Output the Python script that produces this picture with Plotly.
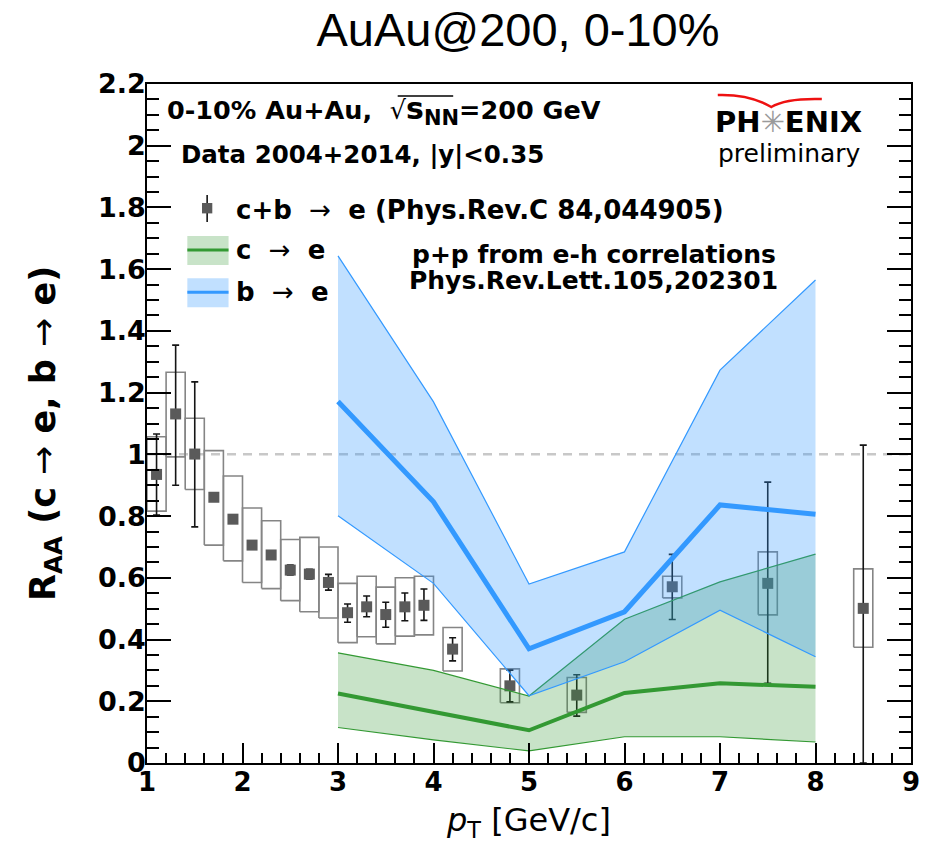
import plotly.graph_objects as go

# ---------------- data ----------------
pt = [1.1, 1.3, 1.5, 1.7, 1.9, 2.1, 2.3, 2.5, 2.7, 2.9, 3.1, 3.3, 3.5, 3.7, 3.9,
      4.2, 4.8, 5.5, 6.5, 7.5, 8.5]
raa = [0.935, 1.131, 1.001, 0.861, 0.790, 0.706, 0.674, 0.625, 0.612, 0.585, 0.487,
       0.506, 0.481, 0.506, 0.511, 0.369, 0.250, 0.220, 0.571, 0.582, 0.501]
stat_up = [0.131, 0.223, 0.234, 0.010, 0.010, 0.010, 0.012, 0.016, 0.016, 0.026, 0.028,
           0.035, 0.040, 0.045, 0.053, 0.037, 0.051, 0.066, 0.105, 0.328, 0.529]
stat_dn = [0.132, 0.231, 0.236, 0.010, 0.010, 0.010, 0.012, 0.016, 0.016, 0.025, 0.031,
           0.032, 0.041, 0.045, 0.049, 0.038, 0.052, 0.068, 0.106, 0.324, 0.501]
sys_hi = [1.057, 1.266, 1.117, 1.012, 0.930, 0.826, 0.785, 0.724, 0.731, 0.700, 0.582,
          0.605, 0.570, 0.600, 0.605, 0.439, 0.305, 0.277, 0.605, 0.684, 0.629]
sys_lo = [0.816, 0.992, 0.886, 0.706, 0.655, 0.585, 0.565, 0.526, 0.490, 0.470, 0.390,
          0.409, 0.386, 0.411, 0.415, 0.298, 0.195, 0.164, 0.535, 0.480, 0.375]
sys_halfwidth = 0.1

band_pt = [3, 4, 5, 6, 7, 8]
c_mid = [0.225, 0.166, 0.106, 0.227, 0.258, 0.247]
c_hi = [0.357, 0.300, 0.217, 0.466, 0.587, 0.677]
c_lo = [0.115, 0.075, 0.039, 0.085, 0.085, 0.068]
b_mid = [1.171, 0.846, 0.370, 0.490, 0.836, 0.806]
b_hi = [1.643, 1.170, 0.580, 0.684, 1.273, 1.565]
b_lo = [0.801, 0.582, 0.218, 0.328, 0.495, 0.344]

x_tickvals = [1, 2, 3, 4, 5, 6, 7, 8, 9]
x_ticktext = ["1", "2", "3", "4", "5", "6", "7", "8", "9"]
y_tickvals = [0, 0.2, 0.4, 0.6, 0.8, 1.0, 1.2, 1.4, 1.6, 1.8, 2.0, 2.2]
y_ticktext = ["0", "0.2", "0.4", "0.6", "0.8", "1", "1.2", "1.4", "1.6", "1.8", "2", "2.2"]

# ---------------- styles ----------------
BLUE = "#3399FF"
BLUE_FILL = "rgba(51,153,255,0.30)"
GREEN = "#339933"
GREEN_FILL = "rgba(51,153,51,0.27)"
MARK = "#5A5A5A"
BOXC = "#858585"
FONT = "DejaVu Sans"

W, H = 932, 842
L, R, T, B = 147, 918, 84, 763


def PX(x):
    return (x - L) / (R - L)


def PY(y):
    return (B - y) / (B - T)


fig = go.Figure()

# systematic boxes
bx, by = [], []
for x, lo, hi in zip(pt, sys_lo, sys_hi):
    bx += [x - sys_halfwidth, x + sys_halfwidth, x + sys_halfwidth, x - sys_halfwidth, x - sys_halfwidth, None]
    by += [lo, lo, hi, hi, lo, None]
fig.add_trace(go.Scatter(x=bx, y=by, mode="lines", line=dict(color=BOXC, width=1.6),
                         hoverinfo="skip", showlegend=False))

# data points
fig.add_trace(go.Scatter(
    x=pt, y=raa, mode="markers",
    marker=dict(symbol="square", size=11, color=MARK),
    error_y=dict(type="data", array=stat_up, arrayminus=stat_dn, color="#151515",
                 thickness=1.6, width=3.5),
    showlegend=False))

# c -> e band
fig.add_trace(go.Scatter(x=band_pt, y=c_lo, mode="lines", line=dict(color=GREEN, width=1.2),
                         showlegend=False))
fig.add_trace(go.Scatter(x=band_pt, y=c_hi, mode="lines", line=dict(color=GREEN, width=1.2),
                         fill="tonexty", fillcolor=GREEN_FILL, showlegend=False))
fig.add_trace(go.Scatter(x=band_pt, y=c_mid, mode="lines", line=dict(color=GREEN, width=4),
                         showlegend=False))
# b -> e band
fig.add_trace(go.Scatter(x=band_pt, y=b_lo, mode="lines", line=dict(color=BLUE, width=1.2),
                         showlegend=False))
fig.add_trace(go.Scatter(x=band_pt, y=b_hi, mode="lines", line=dict(color=BLUE, width=1.2),
                         fill="tonexty", fillcolor=BLUE_FILL, showlegend=False))
fig.add_trace(go.Scatter(x=band_pt, y=b_mid, mode="lines", line=dict(color=BLUE, width=5),
                         showlegend=False))

shapes = []
# dashed unity line
shapes.append(dict(type="line", xref="x", yref="y", x0=1, x1=9, y0=1, y1=1,
                   line=dict(color="#C8C8C8", width=2.5, dash="9px,7px"), layer="below"))


# legend keys (paper coords)
def rect(x0, y0, x1, y1, **kw):
    d = dict(type="rect", xref="paper", yref="paper", x0=PX(x0), x1=PX(x1), y0=PY(y1), y1=PY(y0))
    d.update(kw)
    return d


def seg(x0, y0, x1, y1, color, width):
    return dict(type="line", xref="paper", yref="paper", x0=PX(x0), x1=PX(x1), y0=PY(y0), y1=PY(y1),
                line=dict(color=color, width=width))


shapes.append(seg(207.7, 195, 207.7, 222, "#151515", 1.6))
shapes.append(rect(202.5, 203, 212.9, 213.4, fillcolor=MARK, line=dict(width=0)))
shapes.append(rect(187.7, 236, 229.3, 265, fillcolor=GREEN_FILL, line=dict(width=0)))
shapes.append(seg(187.7, 250, 229.3, 250, GREEN, 3))
shapes.append(rect(187.7, 278.3, 229.3, 307.3, fillcolor=BLUE_FILL, line=dict(width=0)))
shapes.append(seg(187.7, 292.3, 229.3, 292.3, BLUE, 3))

# sqrt overline
shapes.append(seg(400, 96, 456, 96, "black", 1.5))

# PHENIX swoosh
pts = [(723, 95), (755, 94), (777, 107), (792, 98), (828, 99)]
p = [(PX(a), PY(b)) for a, b in pts]
path = "M %f,%f Q %f,%f %f,%f Q %f,%f %f,%f" % (p[0][0], p[0][1], p[1][0], p[1][1], p[2][0], p[2][1],
                                                  p[3][0], p[3][1], p[4][0], p[4][1])
shapes.append(dict(type="path", xref="paper", yref="paper", path=path,
                   line=dict(color="#EE1111", width=2.5)))

ann = []


def txt(text, x, y, size, xanchor="left", family=FONT, color="black", angle=0):
    ann.append(dict(text=text, xref="paper", yref="paper", x=PX(x), y=PY(y), xanchor=xanchor,
                    yanchor="middle", showarrow=False, textangle=angle,
                    font=dict(family=family, size=size, color=color)))


txt("<b>0-10% Au+Au,  </b>√<b><span style='font-size:30px'>s<sub>NN</sub></span>=200 GeV</b>",
    165, 111, 25.5)
txt("<b>Data 2004+2014, |y|&lt;0.35</b>", 179, 155, 24.5)
txt("<b>c+b </b> → <b> e (Phys.Rev.C 84,044905)</b>", 235, 210, 26)
txt("<b>c </b> → <b> e</b>", 235, 250, 26)
txt("<b>b </b> → <b> e</b>", 235, 292, 26)
txt("<b>p+p from e-h correlations</b>", 598, 254, 25, xanchor="center")
txt("<b>Phys.Rev.Lett.105,202301</b>", 598, 280, 25, xanchor="center")
txt("<b>PH</b><span style='color:#9a9a9a'>✳</span><b>ENIX</b>", 794, 122, 29, xanchor="center")
txt("preliminary", 795, 153, 25, xanchor="center")

# axis titles
txt("<b>R<sub>AA</sub> (c </b>→<b> e, b </b>→<b> e)</b>", 45, 433, 35, xanchor="center", angle=-90)
txt("<i>p</i><sub>T</sub> [GeV/c]", 532, 822, 32, xanchor="center")

fig.update_layout(
    width=W, height=H, autosize=False,
    margin=dict(l=L, r=W - R, t=T, b=H - B, pad=0),
    paper_bgcolor="white", plot_bgcolor="white",
    title=dict(text="AuAu@200, 0-10%", xref="container", yref="container",
               x=518 / W, y=1 - 30 / H, xanchor="center", yanchor="middle",
               font=dict(family="Liberation Sans", size=47, color="black")),
    shapes=shapes, annotations=ann, showlegend=False,
    xaxis=dict(range=[1, 9], tickvals=x_tickvals, ticktext=x_ticktext,
               ticks="inside", ticklen=20, tickwidth=1.5, tickcolor="black",
               minor=dict(ticks="inside", ticklen=10, tick0=1, dtick=0.2, tickwidth=1.5,
                          tickcolor="black", showgrid=False),
               showline=True, linecolor="black", linewidth=1.6, mirror=True,
               showgrid=False, zeroline=False, ticklabelstandoff=-5,
               tickfont=dict(family=FONT, size=26, color="black", weight="bold")),
    yaxis=dict(range=[0, 2.2], tickvals=y_tickvals, ticktext=y_ticktext,
               ticks="inside", ticklen=24, tickwidth=1.5, tickcolor="black",
               minor=dict(ticks="inside", ticklen=12, tick0=0, dtick=0.05, tickwidth=1.5,
                          tickcolor="black", showgrid=False),
               showline=True, linecolor="black", linewidth=1.6, mirror="allticks",
               showgrid=False, zeroline=False, ticklabelstandoff=-6,
               tickfont=dict(family=FONT, size=27, color="black", weight="bold")),
)

fig.write_html("out.html", config={"displayModeBar": False},
               post_script="document.body.style.margin='0';")
